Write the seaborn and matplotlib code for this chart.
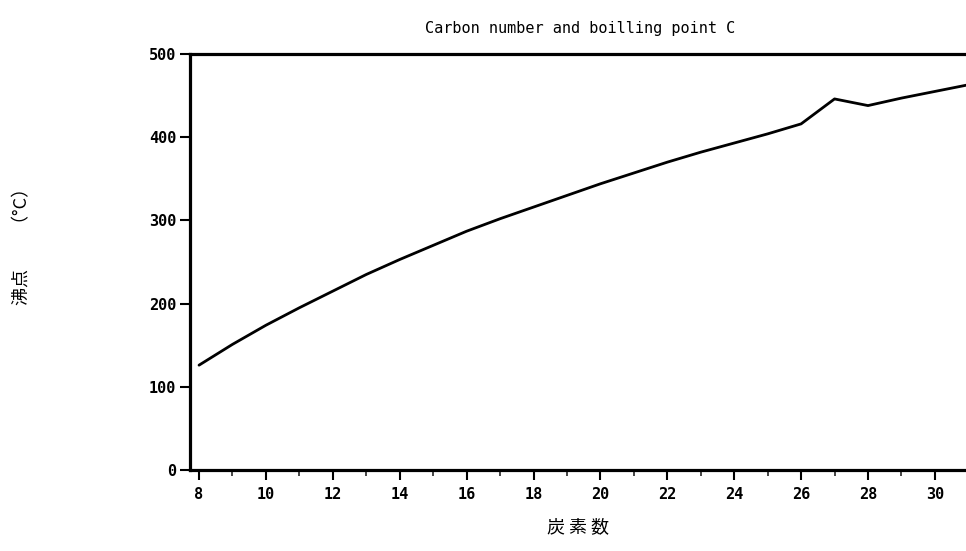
import matplotlib
matplotlib.use("Agg")
import matplotlib.pyplot as plt
import seaborn as sns
import pandas as pd
from matplotlib.ticker import MultipleLocator

carbon_number = [8, 9, 10, 11, 12, 13, 14, 15, 16, 17, 18, 19, 20,
                 21, 22, 23, 24, 25, 26, 27, 28, 29, 30, 31]
boiling_point = [126, 151, 174, 195, 215, 235, 253, 270, 287, 302, 316, 330, 344,
                 357, 370, 382, 393, 404, 416, 446, 438, 447, 455, 463]
x_ticks = [8, 10, 12, 14, 16, 18, 20, 22, 24, 26, 28, 30]
y_ticks = [0, 100, 200, 300, 400, 500]

title = "Carbon number and boilling point C"
xlabel = "炭 素 数"
ylabel = "沸点　　（°C）"

df = pd.DataFrame({"carbon": carbon_number, "bp": boiling_point})

sns.set_style("ticks")
plt.rcParams["font.family"] = ["DejaVu Sans Mono", "Noto Sans CJK JP"]
plt.rcParams["text.color"] = "black"

fig = plt.figure(figsize=(9.66, 5.51), dpi=100)
ax = fig.add_axes([190 / 966, 1 - 470 / 551, 1 - 190 / 966, (470 - 54) / 551])

sns.lineplot(data=df, x="carbon", y="bp", ax=ax, color="black", linewidth=2.0)

ax.set_xlim(7.73, 30.93)
ax.set_ylim(0, 500)
ax.set_xticks(x_ticks)
ax.set_xticklabels([str(t) for t in x_ticks], fontweight="bold")
ax.xaxis.set_minor_locator(MultipleLocator(1))
ax.set_yticks(y_ticks)
ax.set_yticklabels([str(t) for t in y_ticks], fontweight="bold")

ax.tick_params(axis="both", which="major", direction="out", length=7, width=1.5,
               labelsize=11, colors="black")
ax.tick_params(axis="x", which="minor", direction="out", length=4, width=1.2)
ax.tick_params(axis="x", pad=5)
ax.tick_params(axis="y", pad=3)

for s in ["left", "bottom", "top"]:
    ax.spines[s].set_linewidth(2.3)
    ax.spines[s].set_color("black")
ax.spines["right"].set_visible(False)

ax.set_xlabel("")
ax.set_ylabel("")
fig.text(578 / 966, 1 - 527 / 551, xlabel, ha="center", va="center", fontsize=13,
         color="black", family=["Noto Sans CJK JP"])
fig.text(22 / 966, 1 - 242 / 551, ylabel, ha="center", va="center", fontsize=13,
         rotation=90, color="black", family=["Noto Sans CJK JP", "DejaVu Sans"])
fig.text(580 / 966, 1 - 28 / 551, title, ha="center", va="center", fontsize=11,
         color="black", family=["DejaVu Sans Mono"])

fig.savefig("out.png", dpi=100, facecolor="white")
